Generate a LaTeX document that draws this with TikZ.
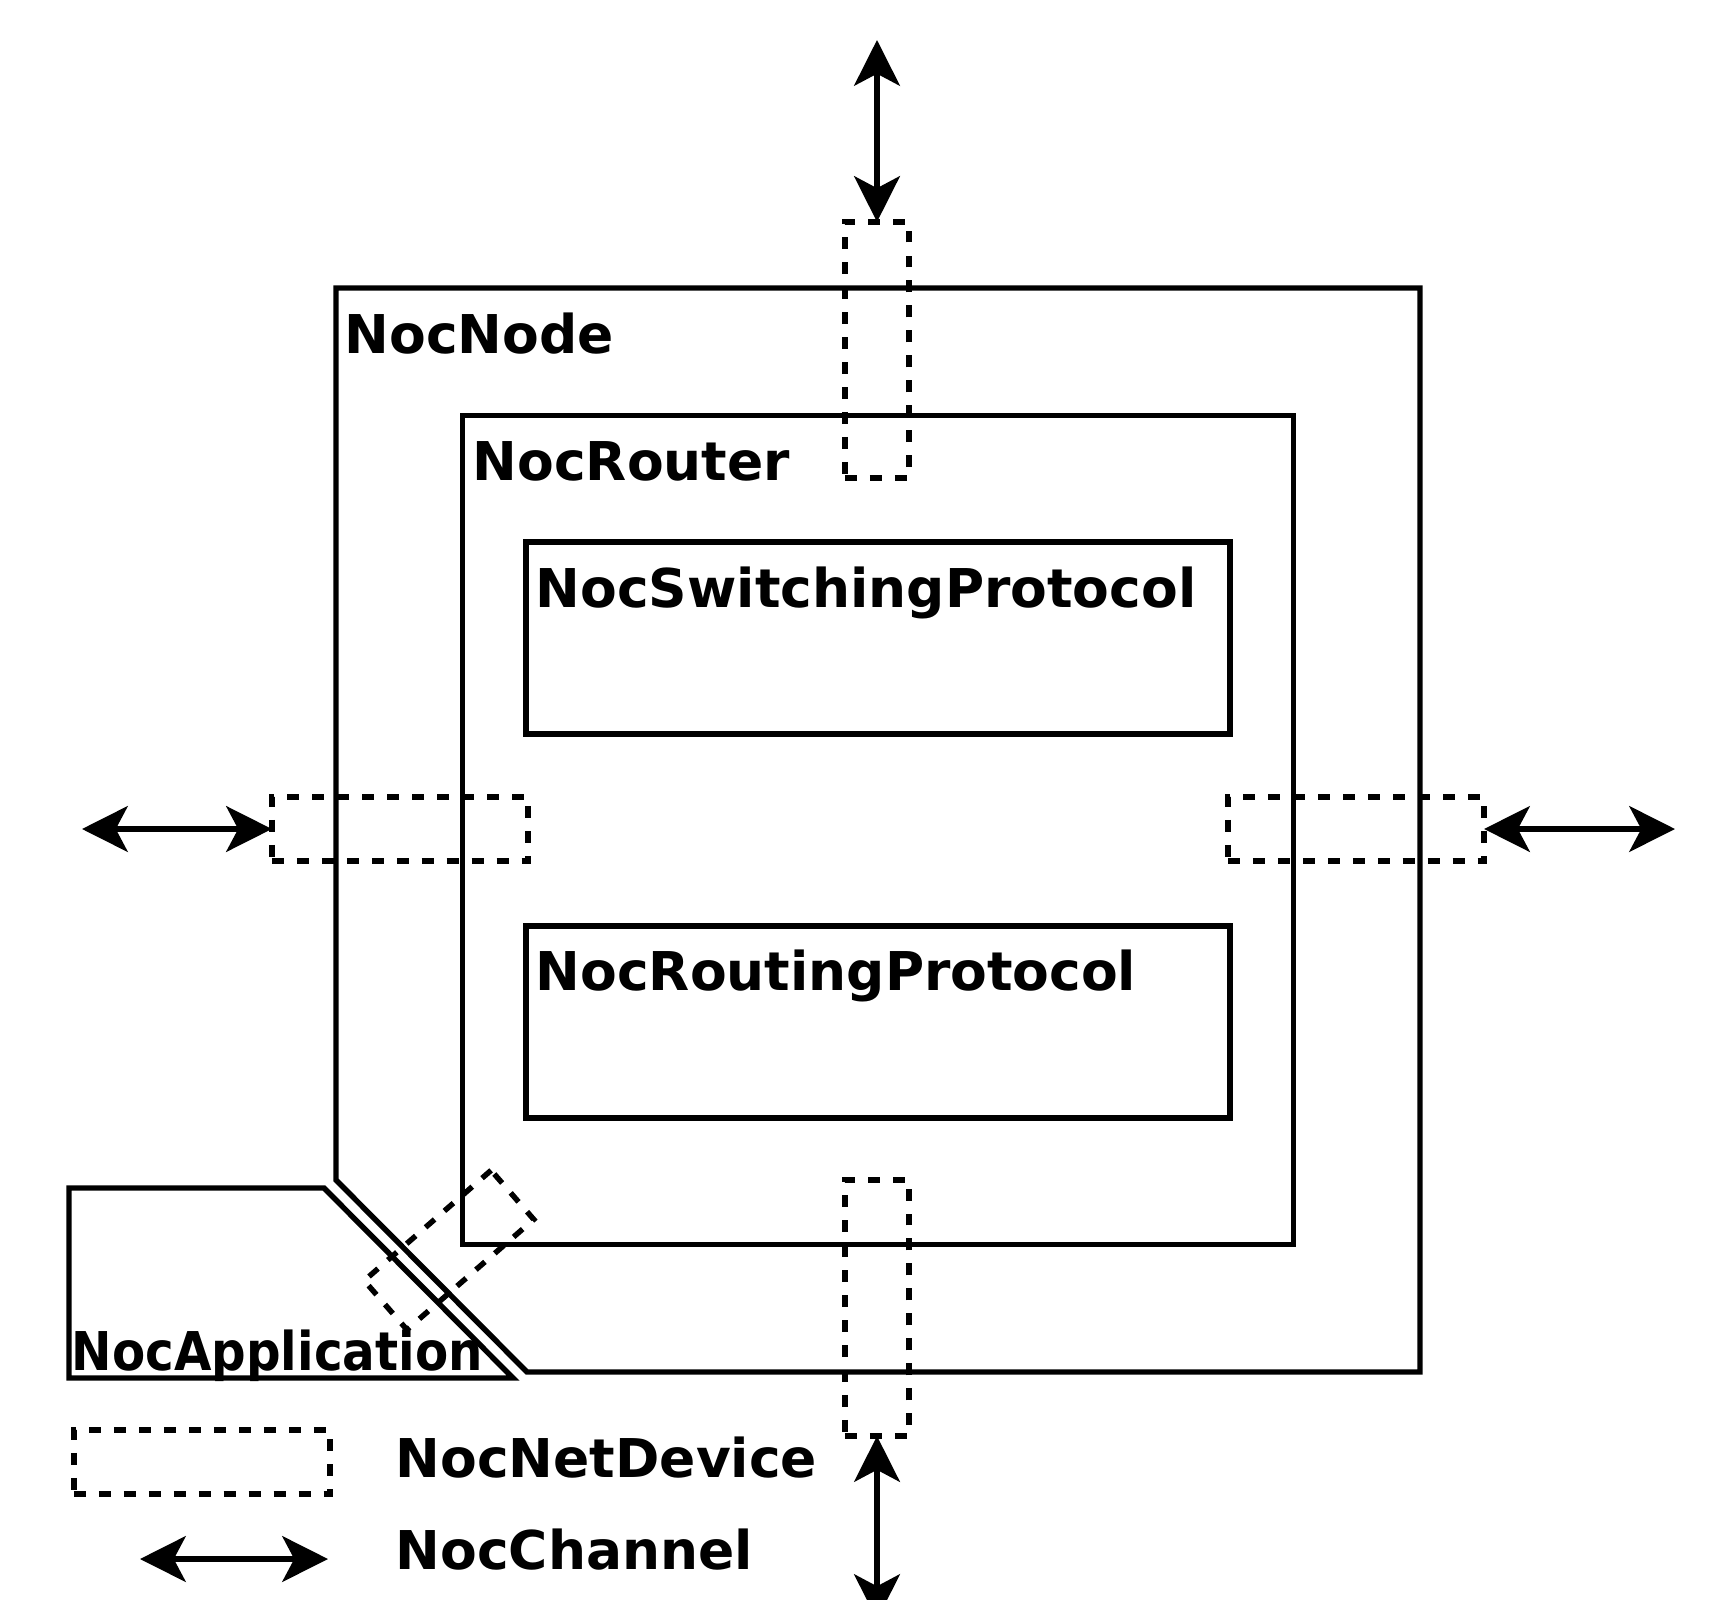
\documentclass[tikz,border=0pt]{standalone}
\usepackage{fontspec}
\setmainfont{DejaVu Sans}
\usetikzlibrary{arrows.meta}
\tikzset{
    noc line/.style={line width=1.55pt},
    noc box/.style={draw,noc line,rectangle,inner sep=0pt,outer sep=0pt},
    net device/.style={noc box,dash pattern=on 3.4pt off 3.7pt},
    dev h/.style={minimum width=2.56cm,minimum height=0.64cm},
    dev v/.style={minimum width=0.64cm,minimum height=2.56cm},
    noc channel/.style={noc line,{Stealth[length=13pt,width=13pt,inset=3.4pt]}-{Stealth[length=13pt,width=13pt,inset=3.4pt]}},
    box label/.style={anchor=base west,inner sep=0pt,font=\bfseries\fontsize{15.2}{18}\selectfont},
}

\begin{document}
\begin{tikzpicture}[x=0.01cm,y=-0.01cm]
\useasboundingbox (0,0) rectangle (1712,1600);
% node outline, corner cut away for the application
\draw[noc line] (336,288) -- (1420,288) -- (1420,1372) -- (527,1372) -- (336,1180) -- cycle;
\draw[noc line] (69,1188) -- (324,1188) -- (513,1378) -- (69,1378) -- cycle;
\node[noc box,minimum width=8.3cm,minimum height=8.28cm] (router) at (878,830) {};
\node[noc box,minimum width=7.04cm,minimum height=1.92cm] (switching) at (878,638) {};
\node[noc box,minimum width=7.04cm,minimum height=1.92cm] (routing) at (878,1022) {};
% net devices
\node[net device,dev v] (devN) at (877,350) {};
\node[net device,dev v] (devS) at (877,1308) {};
\node[net device,dev h] (devW) at (400,829) {};
\node[net device,dev h] (devE) at (1356,829) {};
\node[net device,minimum width=1.68cm,minimum height=0.65cm,rotate=41] (devApp) at (449,1250) {};
% channels
\coordinate (chanN) at (877,40);
\coordinate (chanS) at (877,1620);
\coordinate (chanW) at (82,829);
\coordinate (chanE) at (1675,829);
\draw[noc channel] (chanN) -- (devN.north);
\draw[noc channel] (devS.south) -- (chanS);
\draw[noc channel] (chanW) -- (devW.west);
\draw[noc channel] (devE.east) -- (chanE);
% labels
\node[box label] (nodeText) at (344,353) {NocNode};
\node[box label] (routerText) at (472,480) {NocRouter};
\node[box label] (switchingText) at (535,607) {NocSwitchingProtocol};
\node[box label] (routingText) at (535,990) {NocRoutingProtocol};
\node[box label] (appText) at (71,1370) {\scalebox{0.905}[1]{NocApplication}};
% legend
\node[net device,dev h] (legendDev) at (202,1462) {};
\coordinate (legendA) at (140,1559);
\coordinate (legendB) at (328,1559);
\draw[noc channel] (legendA) -- (legendB);
\node[box label] (devText) at (395,1477) {NocNetDevice};
\node[box label] (chanText) at (395,1569) {NocChannel};
%\draw[help lines] (0,0) grid[step=100] (1712,1600);
\end{tikzpicture}
\end{document}
